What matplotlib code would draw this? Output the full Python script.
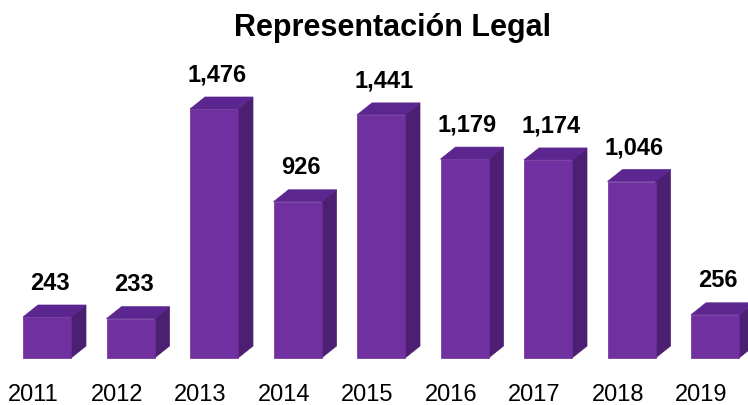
import matplotlib
matplotlib.use("Agg")
import matplotlib.pyplot as plt
from matplotlib.patches import Polygon

# Data
years = ["2011", "2012", "2013", "2014", "2015", "2016", "2017", "2018", "2019"]
cases = [243, 233, 1476, 926, 1441, 1179, 1174, 1046, 256]
value_labels = ["243", "233", "1,476", "926", "1,441", "1,179", "1,174", "1,046", "256"]
title = "Representación Legal"

plt.rcParams["font.family"] = ["Liberation Sans", "DejaVu Sans"]

W, H, DPI = 748, 406, 100
fig = plt.figure(figsize=(W / DPI, H / DPI), dpi=DPI)
ax = fig.add_axes([0, 0, 1, 1])
ax.set_axis_off()

# scale: one category step = 83.5 px, one value unit = 0.1687 px
step_px = 83.5
unit_px = 0.1687
x0_px, base_px = 47.0, 47.0
ax.set_xlim(-x0_px / step_px, (W - x0_px) / step_px)
ax.set_ylim(-base_px / unit_px, (H - base_px) / unit_px)

def px_x(p):
    return p / step_px

def px_y(p):
    return p / unit_px

width = px_x(48)
dx, dy = px_x(15), px_y(12)

front_c = "#7030A0"
side_c = "#4C1F72"
top_c = "#5C2690"

xs = list(range(len(years)))
ax.bar(xs, cases, width=width, color=front_c, edgecolor="#6a2c98", linewidth=0.5, zorder=3)
for x, v in zip(xs, cases):
    l, r = x - width / 2, x + width / 2
    side = Polygon([(r, 0), (r + dx, dy), (r + dx, v + dy), (r, v)],
                   closed=True, facecolor=side_c, edgecolor=side_c, linewidth=0.5, zorder=2)
    top = Polygon([(l, v), (l + dx, v + dy), (r + dx, v + dy), (r, v)],
                  closed=True, facecolor=top_c, edgecolor=top_c, linewidth=0.5, zorder=2)
    ax.add_patch(side)
    ax.add_patch(top)

for x, v, lab in zip(xs, cases, value_labels):
    ax.text(x + px_x(3), v + px_y(35), lab, ha="center", va="center",
            fontsize=17, fontweight="bold", color="black")

for x, y in zip(xs, years):
    ax.text(x - px_x(13.5), -px_y(36), y, ha="center", va="center",
            fontsize=17, color="black")

fig.text(392 / W, 1 - 28 / H, title, ha="center", va="center",
         fontsize=22, fontweight="bold", color="black")

fig.savefig("out.png", dpi=DPI)
